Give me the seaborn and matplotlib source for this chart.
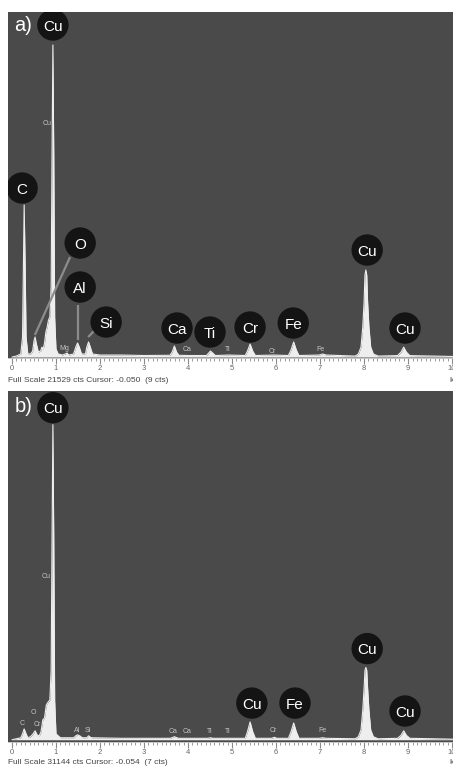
import numpy as np
import pandas as pd
import matplotlib
matplotlib.use("Agg")
import matplotlib.pyplot as plt
from matplotlib.ticker import MultipleLocator
import seaborn as sns

# ---------------- data ----------------
# panel a) spectrum: energy (keV) and counts
energy_a = [0.00, 0.10, 0.20, 0.24, 0.26, 0.277, 0.30, 0.32, 0.36, 0.42, 0.47, 0.50, 0.525,
            0.55, 0.60, 0.65, 0.68, 0.71, 0.74, 0.77, 0.80, 0.83, 0.86, 0.89, 0.91, 0.93,
            0.95, 0.97, 1.00, 1.05, 1.15, 1.21, 1.25, 1.29, 1.40, 1.45, 1.49, 1.53, 1.58,
            1.67, 1.70, 1.74, 1.78, 1.83, 2.00, 2.50, 3.00, 3.59, 3.64, 3.69, 3.74, 3.79,
            4.00, 4.42, 4.47, 4.51, 4.56, 4.62, 4.93, 5.30, 5.35, 5.41, 5.47, 5.53, 5.95,
            6.28, 6.34, 6.40, 6.46, 6.52, 6.98, 7.06, 7.14, 7.80, 7.87, 7.93, 7.97, 8.00,
            8.02, 8.04, 8.06, 8.08, 8.11, 8.15, 8.21, 8.32, 8.76, 8.84, 8.90, 8.96, 9.04,
            10.10]
counts_a = [0, 60, 190, 1250, 5600, 9490, 5600, 1250, 190, 190, 370, 1000, 1250,
            870, 310, 370, 620, 500, 870, 1560, 1870, 2310, 2500, 4370, 12500, 19470,
            12500, 2500, 500, 190, 125, 190, 250, 125, 190, 620, 880, 620, 190,
            190, 620, 940, 620, 190, 125, 125, 95, 110, 310, 690, 310, 110,
            95, 95, 250, 375, 250, 95, 125, 95, 370, 810, 370, 95, 125,
            95, 440, 940, 440, 95, 125, 190, 125, 60, 190, 625, 1870, 3430,
            5120, 5430, 5120, 3430, 1870, 625, 190, 60, 90, 310, 620, 310, 90,
            30]

# panel b) spectrum
energy_b = [0.00, 0.10, 0.20, 0.24, 0.277, 0.32, 0.36, 0.42, 0.48, 0.525, 0.57, 0.62,
            0.66, 0.70, 0.74, 0.78, 0.82, 0.86, 0.89, 0.91, 0.93, 0.95, 0.97, 1.00,
            1.10, 1.40, 1.45, 1.49, 1.54, 1.60, 1.70, 1.74, 1.80, 2.50, 3.60, 3.69,
            3.78, 4.00, 4.45, 4.51, 4.57, 5.30, 5.35, 5.41, 5.47, 5.53, 5.90, 5.96,
            6.02, 6.28, 6.34, 6.40, 6.46, 6.52, 6.98, 7.06, 7.14, 7.80, 7.87, 7.93,
            7.97, 8.00, 8.02, 8.04, 8.06, 8.08, 8.11, 8.15, 8.21, 8.32, 8.76, 8.84,
            8.90, 8.96, 9.04, 10.10]
counts_b = [0, 90, 180, 530, 970, 530, 180, 270, 530, 800, 440, 350,
            710, 1770, 1950, 3100, 3360, 3540, 6200, 17700, 28140, 17700, 3540, 530,
            180, 180, 350, 440, 350, 180, 180, 350, 180, 130, 130, 270,
            130, 130, 130, 180, 130, 130, 710, 1590, 710, 130, 130, 220,
            130, 130, 710, 1500, 710, 130, 130, 180, 130, 90, 270, 880,
            2650, 4600, 6200, 6460, 6200, 4600, 2650, 880, 270, 90, 130, 400,
            800, 400, 130, 45]

# circled element labels: text, energy position, count position
circ_a_text = ["Cu", "C", "O", "Al", "Si", "Ca", "Ti", "Cr", "Fe", "Cu", "Cu"]
circ_a_x = [0.93, 0.23, 1.55, 1.55, 2.14, 3.75, 4.50, 5.41, 6.39, 8.07, 8.93]
circ_a_y = [20717, 10546, 7114, 4368, 2184, 1810, 1560, 1872, 2122, 6677, 1810]

circ_b_text = ["Cu", "Cu", "Fe", "Cu", "Cu"]
circ_b_x = [0.93, 5.45, 6.43, 8.07, 8.93]
circ_b_y = [29650, 3275, 3275, 8142, 2567]

# pointer lines (panel a): start / end energy and counts
ptr_x0 = [0.52, 1.50, 1.93]
ptr_y0 = [1373, 1060, 1810]
ptr_x1 = [1.32, 1.50, 1.73]
ptr_y1 = [6240, 3245, 1250]

# small line-marker labels
small_a_text = ["Cu", "Mg", "Ca", "Ti", "Cr", "Fe"]
small_a_x = [0.80, 1.20, 3.98, 4.91, 5.91, 7.00]
small_a_y = [14600, 560, 440, 440, 375, 500]

small_b_text = ["Cu", "C", "O", "Cr", "Al", "Si", "Ca", "Ca", "Ti", "Ti", "Cr", "Fe"]
small_b_x = [0.77, 0.24, 0.48, 0.57, 1.47, 1.73, 3.66, 3.98, 4.50, 4.91, 5.93, 7.05]
small_b_y = [14600, 1416, 2390, 1330, 820, 820, 710, 710, 710, 710, 800, 800]

tick_vals = list(range(0, 11))
tick_labels = [str(v) for v in tick_vals]

full_scale_a = "Full Scale 21529 cts Cursor: -0.050  (9 cts)"
full_scale_b = "Full Scale 31144 cts Cursor: -0.054  (7 cts)"
ymax_a = 21529
ymax_b = 31144

# ---------------- style ----------------
sns.set_theme(style="dark")
plt.rcParams["font.family"] = ["Liberation Sans", "DejaVu Sans"]

BG = "#4a4a4a"
FILL = "#eeeeee"
CIRC = "#141414"
PTR = "#8c8c8c"
SMALL = "#c4c4c4"
TICKC = "#8a8a8a"

W, H = 453, 767
fig = plt.figure(figsize=(W / 100, H / 100), dpi=100)
fig.patch.set_facecolor("white")


def px_axes(left, top, right, bottom):
    return fig.add_axes([left / W, 1 - bottom / H, (right - left) / W, (bottom - top) / H])


ax_a = px_axes(8, 12, 453, 358)
ax_b = px_axes(8, 391, 453, 742)


def draw_panel(ax, e, c, ymax, y0, circ_t, circ_x, circ_y, small_t, small_x, small_y,
               letter, fs_text, fs_y):
    ax.set_facecolor(BG)
    df = pd.DataFrame({"energy": e, "counts": c})
    ax.fill_between(df["energy"], 0, df["counts"], color=FILL, lw=0, zorder=2)
    sns.lineplot(data=df, x="energy", y="counts", ax=ax, color=FILL, lw=0.8,
                 estimator=None, sort=False, zorder=3)
    ax.set_xlim(-0.09, 10.02)
    ax.set_ylim(y0, ymax)
    ax.set_xlabel("")
    ax.set_ylabel("")
    ax.set_yticks([])
    ax.set_xticks(tick_vals)
    ax.set_xticklabels(tick_labels)
    ax.xaxis.set_minor_locator(MultipleLocator(0.1))
    ax.tick_params(axis="x", which="major", direction="out", length=4, width=0.8,
                   color=TICKC, labelsize=5.5, labelcolor="#666666", pad=1.0, bottom=True)
    ax.tick_params(axis="x", which="minor", direction="out", length=2.5, width=0.6,
                   color=TICKC, bottom=True)
    for s in ("top", "left", "right"):
        ax.spines[s].set_visible(False)
    ax.spines["bottom"].set_color("#bdbdbd")
    ax.spines["bottom"].set_linewidth(0.6)
    ax.grid(False)

    ax.scatter(circ_x, circ_y, s=510, color=CIRC, edgecolors="none", zorder=6)
    for t, x, y in zip(circ_t, circ_x, circ_y):
        ax.text(x, y, t, color="white", fontsize=11, ha="center",
                va="center_baseline", zorder=7)
    for t, x, y in zip(small_t, small_x, small_y):
        ax.text(x, y, t, color=SMALL, fontsize=5, ha="center", va="center", zorder=4)
    ax.text(0.014, 0.962 if letter == "a)" else 0.955, letter, transform=ax.transAxes,
            color="white", fontsize=14.5, ha="left", va="center", zorder=7)
    fig.text(8 / W, 1 - fs_y / H, fs_text, fontsize=6, color="#444444",
             ha="left", va="center")
    fig.text(449 / W, 1 - fs_y / H, "k", fontsize=6, color="#444444",
             ha="left", va="center")


draw_panel(ax_a, energy_a, counts_a, ymax_a, -60, circ_a_text, circ_a_x, circ_a_y,
           small_a_text, small_a_x, small_a_y, "a)", full_scale_a, 380)
for x0, y0, x1, y1 in zip(ptr_x0, ptr_y0, ptr_x1, ptr_y1):
    ax_a.plot([x0, x1], [y0, y1], color=PTR, lw=1.6, zorder=5, solid_capstyle="butt")

draw_panel(ax_b, energy_b, counts_b, ymax_b, -200, circ_b_text, circ_b_x, circ_b_y,
           small_b_text, small_b_x, small_b_y, "b)", full_scale_b, 762)

fig.savefig("out.png", dpi=100, facecolor="white")
